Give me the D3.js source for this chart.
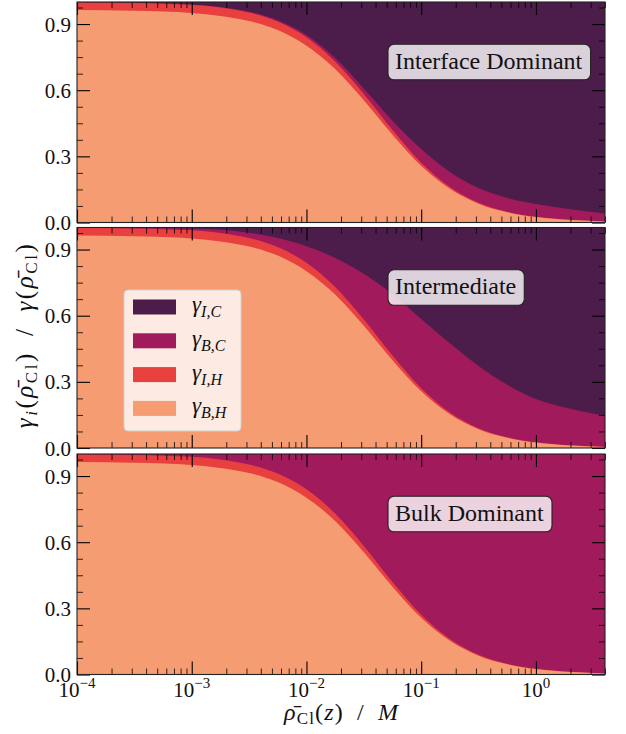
<!DOCTYPE html>
<html>
<head>
<meta charset="utf-8">
<script src="https://cdn.jsdelivr.net/npm/d3@7"></script>
<style>
  body { margin: 0; background: #fff; }
  svg { display: block; }
  svg text { font-family: "Liberation Serif", "DejaVu Serif", "Times New Roman", Times, serif; fill: #111; }
</style>
</head>
<body>
<svg id="chart" width="626" height="734"></svg>
<script>
// Chloride concentration (M) at which the activity split is sampled
const concentration = [1e-4, 3.16e-4, 1e-3, 1.78e-3, 3.16e-3, 5.62e-3, 1e-2, 1.78e-2, 3.16e-2,
                       5.62e-2, 0.1, 0.178, 0.316, 0.562, 1, 2, 4];

// Shared by all three regimes: bulk / interface contributions of the H term
const gammaBulkH      = [0.964, 0.960, 0.9505, 0.937, 0.914, 0.873, 0.802, 0.696, 0.554,
                         0.398, 0.2575, 0.153, 0.0855, 0.0465, 0.0247, 0.0114, 0.0047];
const gammaInterfaceH = [0.035, 0.036, 0.0365, 0.038, 0.038, 0.038, 0.038, 0.034, 0.029,
                         0.021, 0.0135, 0.008, 0.0045, 0.0025, 0.0013, 0.0006, 0.0003];

// C term, interface dominant regime
const bulkC_interfaceDominant      = [0, 0.0005, 0.001, 0.002, 0.004, 0.006, 0.010, 0.016, 0.025,
                                      0.042, 0.062, 0.068, 0.066, 0.062, 0.058, 0.048, 0.036];
const interfaceC_interfaceDominant = [0.001, 0.0035, 0.012, 0.023, 0.044, 0.083, 0.150, 0.254, 0.392,
                                      0.539, 0.667, 0.771, 0.844, 0.889, 0.916, 0.940, 0.959];

// C term, intermediate regime
const bulkC_intermediate      = [0.0007, 0.0028, 0.009, 0.015, 0.024, 0.041, 0.075, 0.132, 0.207,
                                 0.278, 0.314, 0.314, 0.282, 0.238, 0.196, 0.166, 0.141];
const interfaceC_intermediate = [0.0003, 0.0012, 0.004, 0.010, 0.024, 0.048, 0.085, 0.138, 0.21,
                                 0.303, 0.415, 0.525, 0.628, 0.713, 0.778, 0.822, 0.854];

// C term, bulk dominant regime
const bulkC_bulkDominant      = [0.001, 0.004, 0.013, 0.025, 0.048, 0.089, 0.160, 0.270, 0.417,
                                 0.581, 0.729, 0.839, 0.910, 0.951, 0.974, 0.988, 0.995];
const interfaceC_bulkDominant = [0, 0, 0, 0, 0, 0, 0, 0, 0, 0, 0, 0, 0, 0, 0, 0, 0];

const panelTitles = ["Interface Dominant", "Intermediate", "Bulk Dominant"];

// Ticks
const xMajorTicks = [1e-4, 1e-3, 1e-2, 1e-1, 1];
const xTickExponents = ["\u22124", "\u22123", "\u22122", "\u22121", "0"];
const yMajorTicks = [0, 0.3, 0.6, 0.9];
const yTickLabels = ["0.0", "0.3", "0.6", "0.9"];

// Series (bottom to top) and legend entries (top to bottom)
const seriesKeys = ["BH", "IH", "BC", "IC"];
const seriesColors = { IC: "#4c1d4b", BC: "#a11a5b", IH: "#e83f3f", BH: "#f69c73" };
const legendKeys = ["IC", "BC", "IH", "BH"];
const legendSubscripts = { IC: "I,C", BC: "B,C", IH: "I,H", BH: "B,H" };

const panels = [
  { title: panelTitles[0], bulkC: bulkC_interfaceDominant, interfaceC: interfaceC_interfaceDominant },
  { title: panelTitles[1], bulkC: bulkC_intermediate,      interfaceC: interfaceC_intermediate },
  { title: panelTitles[2], bulkC: bulkC_bulkDominant,      interfaceC: interfaceC_bulkDominant }
];

// Layout
const plotLeft = 77, plotRight = 605;
const panelTops = [2, 227.5, 454];
const panelHeight = 220.5;
const majorLen = 13, minorLen = 6;
const serif = "'Liberation Serif', 'DejaVu Serif', 'Times New Roman', Times, serif";

const svg = d3.select("#chart");
const x = d3.scaleLog().domain([1e-4, 4]).range([plotLeft, plotRight]);

const xMinorTicks = [];
xMajorTicks.forEach(d => {
  for (let k = 2; k <= 9; k++) { const v = k * d; if (v <= 4) xMinorTicks.push(v); }
});
const yMinorTicks = d3.range(1, 14).map(k => k * 0.075)
  .filter(v => !yMajorTicks.some(t => Math.abs(t - v) < 1e-6));

function tickAxis(g, axis, width) {
  g.call(axis);
  g.select(".domain").remove();
  g.selectAll(".tick line").attr("stroke", "#000").attr("stroke-width", width);
}

panels.forEach((p, i) => {
  const top = panelTops[i], bottom = top + panelHeight;
  const y = d3.scaleLinear().domain([0, 1]).range([bottom, top]);

  const rows = concentration.map((c, j) => ({
    c, BH: gammaBulkH[j], IH: gammaInterfaceH[j], BC: p.bulkC[j], IC: p.interfaceC[j]
  }));
  const layers = d3.stack().keys(seriesKeys)(rows);

  const g = svg.append("g");
  const clipId = "clip" + i;
  g.append("clipPath").attr("id", clipId)
    .append("rect").attr("x", plotLeft).attr("y", top)
    .attr("width", plotRight - plotLeft).attr("height", panelHeight);

  const areas = g.append("g").attr("clip-path", `url(#${clipId})`);
  // Paint each layer down to zero, topmost first, so neighbouring bands never leave a seam
  layers.slice().reverse()
    .filter(layer => d3.max(layer, d => d[1] - d[0]) > 0)
    .forEach(layer => {
      areas.append("path").datum(layer)
        .attr("fill", seriesColors[layer.key])
        .attr("d", d3.area()
          .x(d => x(d.data.c))
          .y0(y(0))
          .y1(d => y(d[1]))
          .curve(d3.curveMonotoneX));
    });

  // Inward ticks on all four sides
  const axes = g.append("g");
  tickAxis(axes.append("g").attr("transform", `translate(0,${bottom})`),
    d3.axisBottom(x).tickValues(xMajorTicks).tickSize(-majorLen).tickFormat(""), 1.1);
  tickAxis(axes.append("g").attr("transform", `translate(0,${bottom})`),
    d3.axisBottom(x).tickValues(xMinorTicks).tickSize(-minorLen).tickFormat(""), 0.8);
  tickAxis(axes.append("g").attr("transform", `translate(0,${top})`),
    d3.axisTop(x).tickValues(xMajorTicks).tickSize(-majorLen).tickFormat(""), 1.1);
  tickAxis(axes.append("g").attr("transform", `translate(0,${top})`),
    d3.axisTop(x).tickValues(xMinorTicks).tickSize(-minorLen).tickFormat(""), 0.8);

  const yLeft = axes.append("g").attr("transform", `translate(${plotLeft},0)`);
  tickAxis(yLeft, d3.axisLeft(y).tickValues(yMajorTicks).tickSize(-majorLen).tickPadding(6)
    .tickFormat((d, k) => yTickLabels[k]), 1.1);
  yLeft.attr("font-family", serif).attr("font-size", 21);
  yLeft.selectAll(".tick text").attr("font-size", 21)
    .attr("font-family", serif).attr("fill", "#111").attr("dy", "0.34em");
  tickAxis(axes.append("g").attr("transform", `translate(${plotLeft},0)`),
    d3.axisLeft(y).tickValues(yMinorTicks).tickSize(-minorLen).tickFormat(""), 0.8);
  tickAxis(axes.append("g").attr("transform", `translate(${plotRight},0)`),
    d3.axisRight(y).tickValues(yMajorTicks).tickSize(-majorLen).tickFormat(""), 1.1);
  tickAxis(axes.append("g").attr("transform", `translate(${plotRight},0)`),
    d3.axisRight(y).tickValues(yMinorTicks).tickSize(-minorLen).tickFormat(""), 0.8);

  // Frame
  g.append("rect").attr("x", plotLeft).attr("y", top)
    .attr("width", plotRight - plotLeft).attr("height", panelHeight)
    .attr("fill", "none").attr("stroke", "#222").attr("stroke-width", 1.1);

  // Regime annotation
  const boxGroup = g.append("g");
  const boxRect = boxGroup.append("rect");
  const label = boxGroup.append("text")
    .attr("x", 395).attr("y", top + 66.5)
    .attr("font-family", serif)
    .attr("font-size", 24).text(p.title);
  const bb = label.node().getBBox();
  boxRect.attr("x", bb.x - 7).attr("y", top + 42.3)
    .attr("width", bb.width + 15).attr("height", 35.5)
    .attr("rx", 6).attr("ry", 6)
    .attr("fill", "#fff").attr("fill-opacity", 0.8)
    .attr("stroke", "#222").attr("stroke-width", 1.1);

  // Legend sits in the middle panel
  if (i === 1) {
    const lg = g.append("g");
    lg.append("rect").attr("x", 124).attr("y", 290).attr("width", 117).attr("height", 141)
      .attr("rx", 4).attr("ry", 4)
      .attr("fill", "#fff").attr("fill-opacity", 0.8)
      .attr("stroke", "#d0d0d0").attr("stroke-width", 1);
    legendKeys.forEach((key, k) => {
      const cy = 307 + k * 33.8;
      lg.append("rect").attr("x", 133).attr("y", cy - 7.5)
        .attr("width", 43).attr("height", 15)
        .attr("fill", seriesColors[key]);
      const t = lg.append("text").attr("x", 192).attr("y", cy + 5)
        .attr("font-family", serif).attr("font-size", 23);
      t.append("tspan").attr("font-style", "italic").text("\u03b3");
      t.append("tspan").attr("font-style", "italic").attr("font-size", 16)
        .attr("dy", 5).text(legendSubscripts[key]);
    });
  }
});

// Bottom tick labels: 10 with a raised exponent
const xLabelsG = svg.append("g");
xMajorTicks.forEach((v, k) => {
  const t = xLabelsG.append("text").attr("x", x(v)).attr("y", 697)
    .attr("text-anchor", "middle").attr("font-family", serif).attr("font-size", 21);
  t.append("tspan").text("10");
  t.append("tspan").attr("font-size", 15).attr("dy", -9).text(xTickExponents[k]);
});

// x-axis title
const xt = svg.append("text").attr("x", (plotLeft + plotRight) / 2).attr("y", 720)
  .attr("text-anchor", "middle").attr("font-family", serif).attr("font-size", 24)
  .attr("textLength", 114).attr("lengthAdjust", "spacing");
xt.append("tspan").attr("font-style", "italic").text("\u03c1\u0304");
xt.append("tspan").attr("font-size", 17).attr("dy", 4).text("Cl");
xt.append("tspan").attr("dy", -4).text("(");
xt.append("tspan").attr("font-style", "italic").text("z");
xt.append("tspan").text(")\u2002/\u2002");
xt.append("tspan").attr("font-style", "italic").text("M");

// y-axis title
const yt = svg.append("text")
  .attr("transform", `translate(33,${(panelTops[0] + panelTops[2] + panelHeight) / 2 - 2}) rotate(-90)`)
  .attr("text-anchor", "middle").attr("font-family", serif).attr("font-size", 25)
  .attr("textLength", 184).attr("lengthAdjust", "spacing");
yt.append("tspan").attr("font-style", "italic").text("\u03b3");
yt.append("tspan").attr("font-style", "italic").attr("font-size", 17).attr("dy", 4).text("i");
yt.append("tspan").attr("dy", -4).text("(");
yt.append("tspan").attr("font-style", "italic").text("\u03c1\u0304");
yt.append("tspan").attr("font-size", 17).attr("dy", 4).text("Cl");
yt.append("tspan").attr("dy", -4).text(")\u2002/\u2002");
yt.append("tspan").attr("font-style", "italic").text("\u03b3");
yt.append("tspan").text("(");
yt.append("tspan").attr("font-style", "italic").text("\u03c1\u0304");
yt.append("tspan").attr("font-size", 17).attr("dy", 4).text("Cl");
yt.append("tspan").attr("dy", -4).text(")");
</script>
</body>
</html>
